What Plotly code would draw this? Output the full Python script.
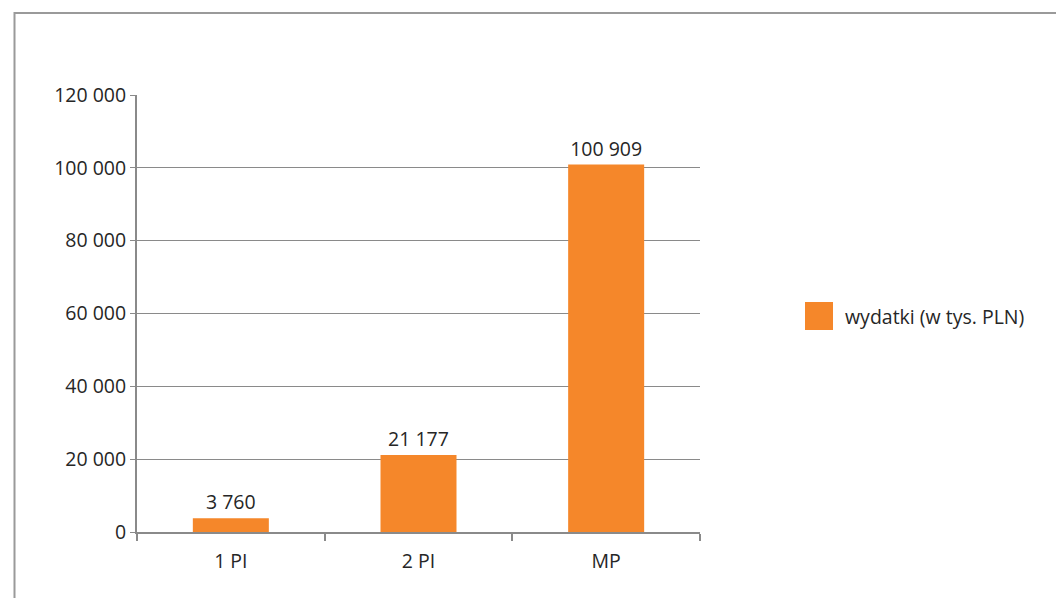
import plotly.graph_objects as go

categories = ["1 PI", "2 PI", "MP"]
values = [3760, 21177, 100909]
series_name = "wydatki (w tys. PLN)"
y_ticks = [0, 20000, 40000, 60000, 80000, 100000, 120000]

W, H = 1056, 598
L, R, T, B = 137, 356, 95, 66
pw, ph = W - L - R, H - T - B

def px_x(p):
    return (p - L) / pw

def px_y(p):
    return (H - B - p) / ph

font_fam = "Open Sans, Noto Sans, sans-serif"
orange = "#F5872A"
grey = "#8A8A8A"
txt = "#262626"
fs = 19.5

fig = go.Figure()
fig.add_trace(go.Bar(
    x=categories, y=values, name=series_name,
    marker=dict(color=orange, line=dict(width=0)),
    width=0.405,
    text=values, texttemplate="%{y:,}", textposition="outside",
    textfont=dict(size=fs, color=txt), cliponaxis=False,
    showlegend=False,
))

fig.update_layout(
    width=W, height=H,
    margin=dict(l=L, r=R, t=T, b=B, autoexpand=False),
    paper_bgcolor="white", plot_bgcolor="white",
    separators=", ",
    font=dict(family=font_fam, size=fs, color=txt),
    showlegend=False,
)
fig.update_yaxes(
    range=[0, 120000], tickvals=y_ticks, tickformat=",",
    showgrid=True, gridcolor=grey, gridwidth=1,
    showline=True, linecolor=grey, linewidth=2,
    ticks="outside", ticklen=5, tickcolor=grey, tickwidth=1,
    zeroline=False, ticklabelstandoff=0,
)
fig.update_xaxes(
    showline=True, linecolor=grey, linewidth=2,
    ticks="outside", tickson="boundaries", ticklen=7, tickcolor=grey, tickwidth=2,
    showgrid=False, ticklabelstandoff=11,
)
# outer frame (top and left edges visible, continuing past the window)
fig.add_shape(type="rect", xref="paper", yref="paper",
              x0=px_x(14.5), x1=px_x(1080), y0=px_y(640), y1=px_y(13),
              line=dict(color="#9a9a9a", width=2), fillcolor="rgba(0,0,0,0)", layer="below")
# legend (drawn manually to match the large swatch)
fig.add_shape(type="rect", xref="paper", yref="paper",
              x0=px_x(805), x1=px_x(833), y0=px_y(330), y1=px_y(302),
              line=dict(width=0), fillcolor=orange)
fig.add_annotation(xref="paper", yref="paper", x=px_x(843), y=px_y(316),
                   xanchor="left", yanchor="middle", showarrow=False,
                   text=series_name, font=dict(size=fs, color=txt))

fig.write_html("out.html", config={"displayModeBar": False})

with open("out.html", "r", encoding="utf-8") as f:
    html = f.read()
html = html.replace("<head>", "<head><style>html,body{margin:0;padding:0;overflow:hidden}</style>", 1)
with open("out.html", "w", encoding="utf-8") as f:
    f.write(html)
